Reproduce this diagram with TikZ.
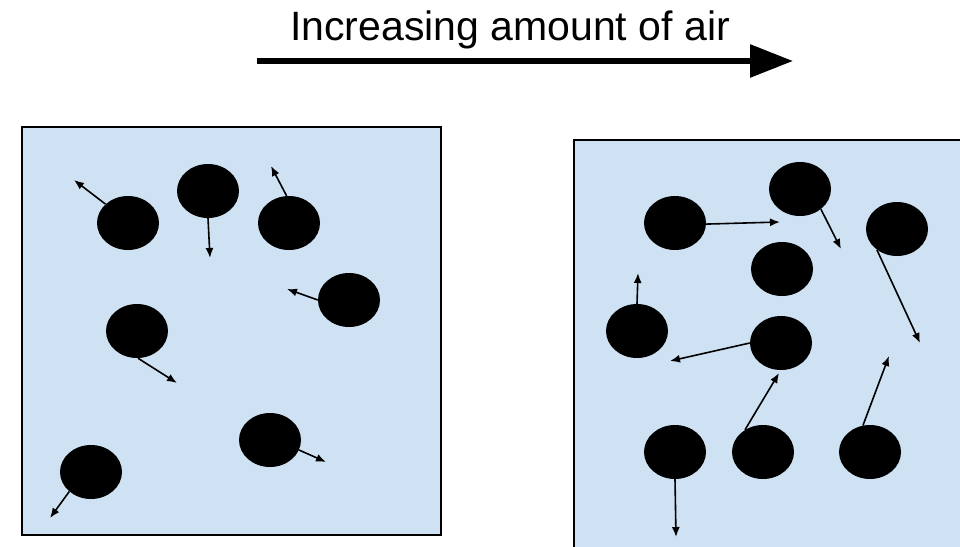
\documentclass[tikz,border=0pt]{standalone}
\usepackage{fontspec}
\setmainfont{Liberation Sans}
\usetikzlibrary{arrows.meta,shapes.geometric}

\definecolor{airblue}{HTML}{CFE2F3}

\begin{document}
\begin{tikzpicture}[x=1pt,y=-1pt,
    molecule/.style={ellipse, fill=black, minimum width=62pt, minimum height=54pt, inner sep=0pt},
    move/.style={-{Latex[length=10pt,width=8pt]}, line width=1.6pt},
    container/.style={draw=black, line width=1.8pt, fill=airblue}]
    \clip (0,0) rectangle (960,546);

    % Title and arrow
    \node[anchor=base, font=\fontsize{41}{48}\selectfont] (title) at (510,40) {Increasing amount of air};
    \coordinate (a0) at (257,61);
    \coordinate (a1) at (793,61);
    \draw[line width=6pt, -{Triangle[length=43pt,width=32pt]}] (a0) -- (a1);

    % Containers
    \draw[container] (22,127) rectangle (441,535);
    \draw[container] (574,140) rectangle (965,551);

    % Molecules (left box)
    \foreach \n/\x/\y in {l1/128/223, l2/208/191, l3/289/223, l4/349/300,
                          l5/137/331, l6/270/440, l7/91/472}
    \node[molecule] (\n) at (\x,\y) {};

    % Molecules (right box)
    \foreach \n/\x/\y in {r1/675/223, r2/800/189, r3/897/229, r4/782/269, r5/637/331,
                          r6/781/343, r7/675/452, r8/763/452, r9/870/452}
    \node[molecule] (\n) at (\x,\y) {};

    % Motion (left box)
    \foreach \n/\a/\x/\y in {l1/140/74/180, l2/-90/210/258, l3/95/271/166, l4/180/287/289,
                             l5/-88/177/383, l6/-19/326/462, l7/-138/50/518}
    \draw[move] (\n.\a) -- (\x,\y);

    % Motion (right box)
    \foreach \n/\a/\x/\y in {r1/-2/780/222, r2/-44/841/249, r3/-134/920/343, r5/90/638/273,
                             r6/180/670/361, r8/129/779/373, r9/105/889/356, r7/-90/676/537}
    \draw[move] (\n.\a) -- (\x,\y);
\end{tikzpicture}
\end{document}
